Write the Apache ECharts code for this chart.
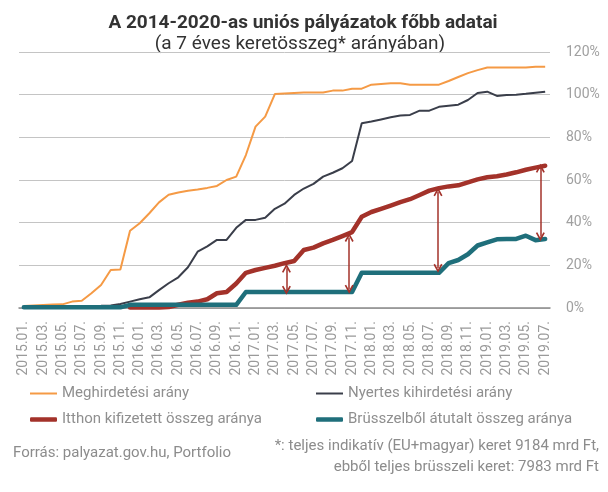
<!DOCTYPE html>
<html>
<head>
<meta charset="utf-8">
<script src="https://cdn.jsdelivr.net/npm/echarts@6/dist/echarts.min.js"></script>
<style>html,body{margin:0;padding:0;background:#fff;}#c{width:608px;height:492px;}</style>
</head>
<body>
<div id="c"></div>
<script>
// ---- data ----
const categories = [
 '2015.01.','2015.02.','2015.03.','2015.04.','2015.05.','2015.06.','2015.07.','2015.08.','2015.09.','2015.10.','2015.11.','2015.12.',
 '2016.01.','2016.02.','2016.03.','2016.04.','2016.05.','2016.06.','2016.07.','2016.08.','2016.09.','2016.10.','2016.11.','2016.12.',
 '2017.01.','2017.02.','2017.03.','2017.04.','2017.05.','2017.06.','2017.07.','2017.08.','2017.09.','2017.10.','2017.11.','2017.12.',
 '2018.01.','2018.02.','2018.03.','2018.04.','2018.05.','2018.06.','2018.07.','2018.08.','2018.09.','2018.10.','2018.11.','2018.12.',
 '2019.01.','2019.02.','2019.03.','2019.04.','2019.05.','2019.06.','2019.07.'
];
const meghirdetesi = [
 0.9,1.2,1.4,1.6,1.7,3.0,3.4,6.9,10.8,17.8,18.1,36.2,
 39.7,44.4,49.5,53.1,54.1,55.0,55.5,56.3,57.2,60.0,61.6,71.7,
 85.0,89.7,100.3,100.6,100.8,101.0,101.0,101.0,101.9,101.9,102.8,102.8,
 104.7,105.0,105.3,105.3,104.7,104.7,104.7,104.7,106.4,108.3,110.1,111.5,
 112.7,112.7,112.7,112.7,112.7,113.1,113.1
];
const nyertes = [
 0,0,0,0,0.1,0.3,0.5,0.9,1.0,1.2,1.9,3.0,
 4.1,5.0,8.4,11.6,14.4,19.1,26.4,28.9,31.9,31.9,37.6,41.3,
 41.3,42.3,46.5,48.9,53.0,56.0,58.2,61.6,63.4,65.5,68.9,86.6,
 87.4,88.4,89.4,90.2,90.5,92.5,92.5,94.3,94.8,95.3,97.5,100.8,
 101.4,99.4,99.8,100.0,100.4,100.9,101.4
];
const itthon = [
 null,null,null,null,null,null,null,null,null,null,null,0.2,
 0.2,0.2,0.2,0.5,1.5,2.5,3.0,4.1,6.9,7.5,11.5,16.5,
 17.8,18.8,19.8,21.0,22.0,27.2,28.3,30.3,31.9,33.7,35.6,42.8,
 45.0,46.5,48.0,49.6,51.0,53.0,55.0,56.2,57.0,57.5,58.9,60.3,
 61.3,61.8,62.6,63.6,64.8,65.8,66.7
];
const brusszel = [
 0.3,0.3,0.3,0.3,0.3,0.3,0.3,0.3,0.3,0.3,0.3,1.5,
 1.5,1.5,1.5,1.5,1.5,1.5,1.5,1.5,1.5,1.5,1.5,7.5,
 7.5,7.5,7.5,7.5,7.5,7.5,7.5,7.5,7.5,7.5,7.5,16.5,
 16.5,16.5,16.5,16.5,16.5,16.5,16.5,16.5,21.0,22.5,25.2,29.3,
 30.8,32.2,32.3,32.4,33.9,31.8,32.3
];
// gap arrows (position in month index, lower and upper end in %)
const arrowX = [27.2, 33.7, 42.9, 53.5];
const arrowLow = [8.3, 8.8, 18.6, 33.4];
const arrowHigh = [18.6, 33.1, 54.5, 65.5];
const seriesNames = ['Meghirdetési arány','Nyertes kihirdetési arány','Itthon kifizetett összeg aránya','Brüsszelből átutalt összeg aránya'];
const yTicks = [0,20,40,60,80,100,120];

const colors = ['#f59a45','#3a3e4a','#a3322a','#1f6f7b'];
const FONT = 'Roboto';
const chevron = 'path://M0,10 L5,0 L10,10 L8.4,11 L5,4.2 L1.6,11 Z';

const chart = echarts.init(document.getElementById('c'), null, {renderer:'canvas'});

function leg(name, left, top, h, icon){
  return {data:[name], left:left, top:top, padding:0, itemWidth:27, itemHeight:h, icon:icon,
    textStyle:{color:'#8f8f8f', fontSize:15, fontFamily:FONT}, selectedMode:false};
}

const arrowData = arrowX.map((x,i)=>[{coord:[x, arrowLow[i]]},{coord:[x, arrowHigh[i]]}]);

chart.setOption({
  animation:false,
  backgroundColor:'#fff',
  textStyle:{fontFamily:FONT},
  grid:{left:19, right:58, top:52, bottom:184, containLabel:false},
  legend:[
    leg(seriesNames[0], 30, 386, 2, 'rect'),
    leg(seriesNames[1], 316, 386, 2, 'rect'),
    leg(seriesNames[2], 30, 412, 4.5, 'roundRect'),
    leg(seriesNames[3], 316, 412, 4.5, 'roundRect')
  ],
  xAxis:[{
    type:'category', data:categories, boundaryGap:true,
    axisLine:{lineStyle:{color:'#8a8a8a', width:1.5}},
    axisTick:{show:false},
    axisLabel:{interval:1, rotate:90, color:'#9a9a9a', fontSize:14, margin:13, fontFamily:FONT}
  },{
    type:'value', min:-0.5, max:categories.length-0.5, show:false
  }],
  yAxis:{
    type:'value', position:'right', min:yTicks[0], max:yTicks[yTicks.length-1], interval:20,
    axisLine:{show:false}, axisTick:{show:false},
    splitLine:{lineStyle:{color:'#c4c4c4', width:1}},
    axisLabel:{formatter:'{value}%', color:'#a0a0a0', fontSize:14, margin:16, fontFamily:FONT}
  },
  series:[
    {name:seriesNames[0], type:'line', data:meghirdetesi, symbol:'none', color:colors[0], lineStyle:{width:2, color:colors[0]}},
    {name:seriesNames[1], type:'line', data:nyertes, symbol:'none', color:colors[1], lineStyle:{width:2, color:colors[1]}},
    {name:seriesNames[2], type:'line', data:itthon, symbol:'none', color:colors[2], lineStyle:{width:4.5, color:colors[2], cap:'round', join:'round'}},
    {name:seriesNames[3], type:'line', data:brusszel, symbol:'none', color:colors[3], lineStyle:{width:4.5, color:colors[3], cap:'round', join:'round'}},
    {name:'arrows', type:'line', xAxisIndex:1, data:[], symbol:'none', silent:true,
      markLine:{silent:true, symbol:[chevron, chevron], symbolSize:[9,9], animation:false,
        lineStyle:{color:colors[2], width:1.5, type:'solid'}, label:{show:false},
        emphasis:{disabled:true}, data:arrowData}}
  ],
  graphic:[
    {type:'text', style:{text:'A 2014-2020-as uniós pályázatok főbb adatai', x:303, y:23, align:'center', verticalAlign:'middle', fill:'#333', fontSize:19, fontWeight:'bold', fontFamily:FONT}},
    {type:'text', style:{text:'(a 7 éves keretösszeg* arányában)', x:300, y:44, align:'center', verticalAlign:'middle', fill:'#333', fontSize:19, fontFamily:FONT}},
    {type:'text', style:{text:'Forrás: palyazat.gov.hu, Portfolio', x:13, y:453, align:'left', verticalAlign:'middle', fill:'#8c8c8c', fontSize:15, fontFamily:FONT}},
    {type:'text', style:{text:'*: teljes indikatív (EU+magyar) keret 9184 mrd Ft,', x:599, y:446, align:'right', verticalAlign:'middle', fill:'#8c8c8c', fontSize:15, fontFamily:FONT}},
    {type:'text', style:{text:'ebből teljes brüsszeli keret: 7983 mrd Ft', x:599, y:467, align:'right', verticalAlign:'middle', fill:'#8c8c8c', fontSize:15, fontFamily:FONT}}
  ]
});
</script>
</body>
</html>
